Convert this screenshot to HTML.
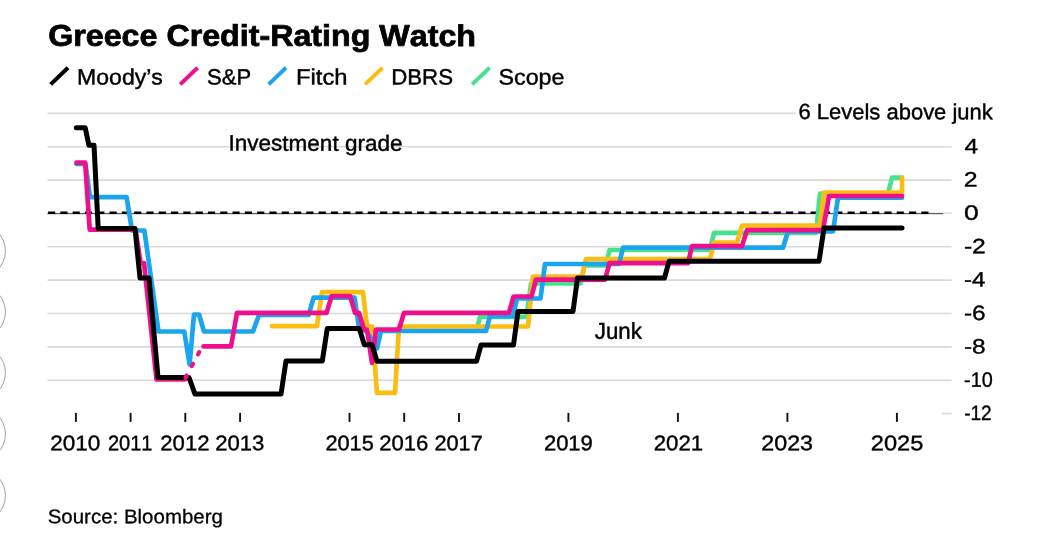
<!DOCTYPE html><html><head><meta charset="utf-8"><title>Greece Credit-Rating Watch</title>
<style>html,body{margin:0;padding:0;background:#fff}svg{display:block}text{font-family:"Liberation Sans",sans-serif;font-kerning:none;text-rendering:geometricPrecision}</style></head><body>
<svg width="1055" height="542" viewBox="0 0 1055 542">
<rect width="1055" height="542" fill="#fff"/>
<circle cx="-21.6" cy="251" r="27" fill="none" stroke="#a0a0a0" stroke-width="1"/>
<circle cx="-21.6" cy="311.9" r="27" fill="none" stroke="#a0a0a0" stroke-width="1"/>
<circle cx="-21.6" cy="372.8" r="27" fill="none" stroke="#a0a0a0" stroke-width="1"/>
<circle cx="-21.6" cy="434.2" r="27" fill="none" stroke="#a0a0a0" stroke-width="1"/>
<circle cx="-21.6" cy="495.6" r="27" fill="none" stroke="#a0a0a0" stroke-width="1"/>
<line x1="47.5" y1="113.4" x2="795.6" y2="113.4" stroke="#d9d9d9" stroke-width="1.6"/>
<line x1="47.5" y1="146.8" x2="951.6" y2="146.8" stroke="#d9d9d9" stroke-width="1.6"/>
<line x1="47.5" y1="180.1" x2="951.6" y2="180.1" stroke="#d9d9d9" stroke-width="1.6"/>
<line x1="47.5" y1="213.3" x2="951.6" y2="213.3" stroke="#d9d9d9" stroke-width="1.6"/>
<line x1="47.5" y1="246.7" x2="951.6" y2="246.7" stroke="#d9d9d9" stroke-width="1.6"/>
<line x1="47.5" y1="280.1" x2="951.6" y2="280.1" stroke="#d9d9d9" stroke-width="1.6"/>
<line x1="47.5" y1="313.5" x2="951.6" y2="313.5" stroke="#d9d9d9" stroke-width="1.6"/>
<line x1="47.5" y1="346.9" x2="951.6" y2="346.9" stroke="#d9d9d9" stroke-width="1.6"/>
<line x1="47.5" y1="380.3" x2="951.6" y2="380.3" stroke="#d9d9d9" stroke-width="1.6"/>
<line x1="942" y1="413.6" x2="951.6" y2="413.6" stroke="#d9d9d9" stroke-width="1.6"/>
<line x1="47.5" y1="213.7" x2="943" y2="213.7" stroke="#444" stroke-width="1"/>
<line x1="48" y1="212.8" x2="929" y2="212.8" stroke="#000" stroke-width="2.5" stroke-dasharray="7.2 5.1"/>
<line x1="75.9" y1="412.9" x2="75.9" y2="421.9" stroke="#111" stroke-width="1.9"/>
<text transform="translate(50.27,450.30) rotate(0.03) scale(1.1240,1.0593)" font-size="20" fill="#000" stroke="#000" stroke-width="0.35">2010</text>
<line x1="130.6" y1="412.9" x2="130.6" y2="421.9" stroke="#111" stroke-width="1.9"/>
<text transform="translate(107.99,450.30) rotate(0.03) scale(0.9998,1.0593)" font-size="20" fill="#000" stroke="#000" stroke-width="0.35">2011</text>
<line x1="185.3" y1="412.9" x2="185.3" y2="421.9" stroke="#111" stroke-width="1.9"/>
<text transform="translate(160.29,450.30) rotate(0.03) scale(1.1064,1.0593)" font-size="20" fill="#000" stroke="#000" stroke-width="0.35">2012</text>
<line x1="240.1" y1="412.9" x2="240.1" y2="421.9" stroke="#111" stroke-width="1.9"/>
<text transform="translate(215.19,450.30) rotate(0.03) scale(1.1054,1.0593)" font-size="20" fill="#000" stroke="#000" stroke-width="0.35">2013</text>
<line x1="349.5" y1="412.9" x2="349.5" y2="421.9" stroke="#111" stroke-width="1.9"/>
<text transform="translate(325.41,450.30) rotate(0.03) scale(1.0857,1.0593)" font-size="20" fill="#000" stroke="#000" stroke-width="0.35">2015</text>
<line x1="404.2" y1="412.9" x2="404.2" y2="421.9" stroke="#111" stroke-width="1.9"/>
<text transform="translate(379.29,450.30) rotate(0.03) scale(1.1031,1.0593)" font-size="20" fill="#000" stroke="#000" stroke-width="0.35">2016</text>
<line x1="459.0" y1="412.9" x2="459.0" y2="421.9" stroke="#111" stroke-width="1.9"/>
<text transform="translate(434.51,450.30) rotate(0.03) scale(1.0829,1.0593)" font-size="20" fill="#000" stroke="#000" stroke-width="0.35">2017</text>
<line x1="568.4" y1="412.9" x2="568.4" y2="421.9" stroke="#111" stroke-width="1.9"/>
<text transform="translate(543.89,450.30) rotate(0.03) scale(1.1002,1.0593)" font-size="20" fill="#000" stroke="#000" stroke-width="0.35">2019</text>
<line x1="677.9" y1="412.9" x2="677.9" y2="421.9" stroke="#111" stroke-width="1.9"/>
<text transform="translate(653.68,450.30) rotate(0.03) scale(1.1103,1.0593)" font-size="20" fill="#000" stroke="#000" stroke-width="0.35">2021</text>
<line x1="787.4" y1="412.9" x2="787.4" y2="421.9" stroke="#111" stroke-width="1.9"/>
<text transform="translate(761.33,450.30) rotate(0.03) scale(1.1618,1.0593)" font-size="20" fill="#000" stroke="#000" stroke-width="0.35">2023</text>
<line x1="896.9" y1="412.9" x2="896.9" y2="421.9" stroke="#111" stroke-width="1.9"/>
<text transform="translate(870.81,450.30) rotate(0.03) scale(1.1795,1.0593)" font-size="20" fill="#000" stroke="#000" stroke-width="0.35">2025</text>
<text transform="translate(964.44,153.30) rotate(0.03) scale(1.2304,1.0381)" font-size="20" fill="#000" stroke="#000" stroke-width="0.35">4</text>
<text transform="translate(963.75,186.60) rotate(0.03) scale(1.2402,1.0381)" font-size="20" fill="#000" stroke="#000" stroke-width="0.35">2</text>
<text transform="translate(963.97,219.80) rotate(0.03) scale(1.3179,1.0381)" font-size="20" fill="#000" stroke="#000" stroke-width="0.35">0</text>
<text transform="translate(963.90,253.20) rotate(0.03) scale(1.2336,1.0381)" font-size="20" fill="#000" stroke="#000" stroke-width="0.35">-2</text>
<text transform="translate(963.93,286.60) rotate(0.03) scale(1.2018,1.0381)" font-size="20" fill="#000" stroke="#000" stroke-width="0.35">-4</text>
<text transform="translate(963.91,320.00) rotate(0.03) scale(1.2238,1.0381)" font-size="20" fill="#000" stroke="#000" stroke-width="0.35">-6</text>
<text transform="translate(963.91,353.40) rotate(0.03) scale(1.2231,1.0381)" font-size="20" fill="#000" stroke="#000" stroke-width="0.35">-8</text>
<text transform="translate(964.12,386.80) rotate(0.03) scale(0.9913,1.0381)" font-size="20" fill="#000" stroke="#000" stroke-width="0.35">-10</text>
<text transform="translate(964.15,420.10) rotate(0.03) scale(0.9514,1.0381)" font-size="20" fill="#000" stroke="#000" stroke-width="0.35">-12</text>
<path d="M477.5,326.5 L480,316.9 L526.5,316.9 L531,283.5 L580.5,283.5 L584.5,265.5 L606,265.5 L609.5,250 L710,250 L714,232.9 L816,232.9 L820,193.5 L888,193.5 L892,177.7 L902,177.7" fill="none" stroke="#48e28e" stroke-width="4.7" stroke-linejoin="round" stroke-linecap="round"/>
<path d="M272,326.1 L317,326.1 L322,292.2 L363,292.2 L367,326.5 L372,326.5 L377,392.9 L395,392.9 L399,326.5 L528,326.5 L533,276.5 L582,276.5 L586,259.2 L710,259.2 L714,242.5 L737,242.5 L742,225.7 L820,225.7 L824,192.5 L902,192.5 L902,177.7" fill="none" stroke="#fbbd14" stroke-width="4.7" stroke-linejoin="round" stroke-linecap="round"/>
<path d="M76.5,164 L85.5,164 L90,197.1 L126.6,197.1 L132,230.5 L144.4,230.5 L158.5,331.5 L184.3,331.5 L189.6,364.5 L194,314.5 L199,314.5 L204,331.5 L253,331.5 L259,315 L308.6,315 L313.6,297.6 L354.5,297.6 L359.5,330.5 L366,330.5 L377,348.5 L381,331 L486,331 L490,316.1 L513,316.1 L517,298.5 L540.5,298.5 L545,264 L619,264 L623,247.7 L783,247.7 L788,231.5 L833,231.5 L838,197.7 L902,197.7" fill="none" stroke="#1ba5ec" stroke-width="4.7" stroke-linejoin="round" stroke-linecap="round"/>
<path d="M76.5,162.7 L85.2,162.7 L89.7,229.7 L135.5,229.7 L140.5,263 L144,263 L156.5,379.5 L185,379.5" fill="none" stroke="#ee0f8c" stroke-width="4.7" stroke-linejoin="round" stroke-linecap="round"/>
<path d="M203.5,346.4 L231,346.4 L237,312.9 L326.6,312.9 L331.6,296.1 L350.2,296.1 L355,312.9 L359,312.9 L364,329.5 L367,329.5 L372,362.9 L376,329.5 L399,329.5 L404,312.9 L509,312.9 L513.5,296.5 L531.5,296.5 L536,279.7 L605,279.7 L609.5,263.1 L688,263.1 L692,246.1 L742,246.1 L747,230.1 L823,230.1 L829,196 L902,196" fill="none" stroke="#ee0f8c" stroke-width="4.7" stroke-linejoin="round" stroke-linecap="round"/>
<path d="M76.3,127.7 L85.2,127.7 L88.9,145.2 L94,145.2 L98.2,228.5 L135,228.5 L140,278.1 L149,278.1 L158,377.5 L189,377.5 L195,394.1 L281,394.1 L286,361 L322.3,361 L327.3,328.4 L359.3,328.4 L364.3,344.8 L372,344.8 L377,361.3 L476.5,361.3 L481,345 L513.5,345 L518,311.5 L573,311.5 L577.5,278 L664.5,278 L669,261.3 L819,261.3 L824,228.1 L902,228.1" fill="none" stroke="#000000" stroke-width="5.0" stroke-linejoin="round" stroke-linecap="round"/>
<path d="M184.5,379.8 L202.3,346.4" fill="none" stroke="#ee0f8c" stroke-width="4.2" stroke-linecap="round" stroke-dasharray="2.6 10.7" stroke-dashoffset="-2.2"/>
<text transform="translate(228.52,150.60) rotate(0.03) scale(1.1258,1.1119)" font-size="20" fill="#000" stroke="#000" stroke-width="0.38">Investment grade</text>
<text transform="translate(798.48,119.10) rotate(0.03) scale(1.0990,1.0901)" font-size="20" fill="#000" stroke="#000" stroke-width="0.38">6 Levels above junk</text>
<text transform="translate(594.85,338.80) rotate(0.03) scale(1.1129,1.1410)" font-size="20" fill="#000" stroke="#000" stroke-width="0.38">Junk</text>
<text transform="translate(48.18,45.70) rotate(0.03) scale(1.6107,1.4971)" font-size="20" font-weight="bold" fill="#000" stroke="#000" stroke-width="0.5">Greece Credit-Rating Watch</text>
<line x1="50.6" y1="84.4" x2="68" y2="67.7" stroke="#000000" stroke-width="4"/>
<text transform="translate(77.11,84.50) rotate(0.03) scale(1.1510,1.1047)" font-size="20" fill="#000" stroke="#000" stroke-width="0.38">Moody’s</text>
<line x1="180.2" y1="84.4" x2="197.6" y2="67.7" stroke="#ee0f8c" stroke-width="4"/>
<text transform="translate(207.00,84.50) rotate(0.03) scale(1.1036,1.1047)" font-size="20" fill="#000" stroke="#000" stroke-width="0.38">S&amp;P</text>
<line x1="268.6" y1="84.4" x2="286" y2="67.7" stroke="#1ba5ec" stroke-width="4"/>
<text transform="translate(296.05,84.50) rotate(0.03) scale(1.1881,1.1047)" font-size="20" fill="#000" stroke="#000" stroke-width="0.38">Fitch</text>
<line x1="365.1" y1="84.4" x2="382.5" y2="67.7" stroke="#fbbd14" stroke-width="4"/>
<text transform="translate(391.17,84.50) rotate(0.03) scale(1.1130,1.1047)" font-size="20" fill="#000" stroke="#000" stroke-width="0.38">DBRS</text>
<line x1="472.2" y1="84.4" x2="489.6" y2="67.7" stroke="#48e28e" stroke-width="4"/>
<text transform="translate(498.44,84.50) rotate(0.03) scale(1.1655,1.1047)" font-size="20" fill="#000" stroke="#000" stroke-width="0.38">Scope</text>
<text transform="translate(47.67,523.20) rotate(0.03) scale(1.0236,0.9884)" font-size="20" fill="#000" stroke="#000" stroke-width="0.3">Source: Bloomberg</text>
</svg></body></html>
